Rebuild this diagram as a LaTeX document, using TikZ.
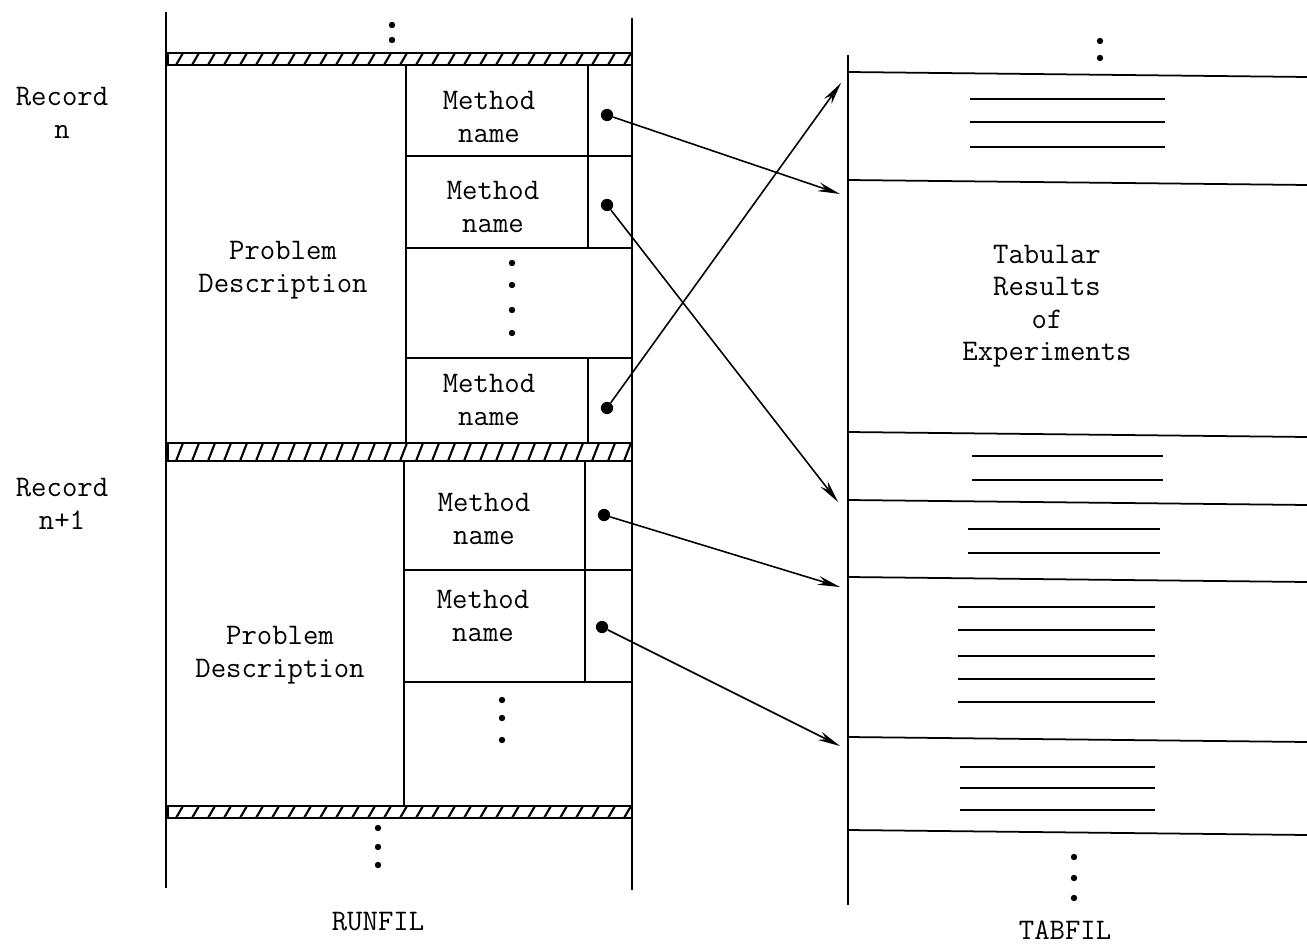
\documentclass[tikz,border=0pt]{standalone}
\usepackage{fontspec}
\usetikzlibrary{arrows.meta,positioning}
\tikzset{
  frame/.style={line width=1.4pt},
  grid/.style={line width=1.1pt},
  lbl/.style={font=\ttfamily\fontsize{17}{18.5}\selectfont,align=center,inner sep=0pt},
  ptr/.style={circle,fill=black,inner sep=0pt,minimum size=7pt},
  link/.style={-{Stealth[length=4.5mm,width=1.8mm]},line width=0.9pt},
  rule/.style={line width=1pt}
}
\newcommand{\dotcol}[2]{\foreach \yy in {#2} \fill (#1,\yy) circle (3.2);}

\begin{document}
\begin{tikzpicture}[x=0.02cm,y=-0.02cm]
  \useasboundingbox (0,0) rectangle (1307,945);

  % RUNFIL frame
  \draw[frame] (166,12) -- (166,888);
  \draw[frame] (632,18) -- (632,890);
  \foreach \ya/\yb in {53/65,443/461,806/818}{
    \draw[grid] (168,\ya) rectangle (632,\yb);
    \begin{scope}
      \clip (168,\ya) rectangle (632,\yb);
      \foreach \xx in {160,176,...,640}
        \draw[line width=1.2pt] (\xx,\yb) -- (\xx+7,\ya);
    \end{scope}
  }
  \dotcol{392}{25,40}
  \dotcol{378}{828,847,865}

  % record n
  \draw[grid] (406,65) -- (406,443);
  \draw[grid] (588,65) -- (588,248);
  \draw[grid] (588,358) -- (588,443);
  \foreach \yy in {156,248,358}
    \draw[grid] (406,\yy) -- (632,\yy);
  \dotcol{512}{263,285,310,333}

  % record n+1
  \draw[grid] (404,461) -- (404,806);
  \draw[grid] (585,461) -- (585,682);
  \foreach \yy in {570,682}
    \draw[grid] (404,\yy) -- (632,\yy);
  \dotcol{502}{700,718,740}

  \node[lbl] (recn) at (62,113) {Record\\n};
  \node[lbl] (recm) at (62,504) {Record\\n+1};
  \node[lbl] (desc1) at (283,270) {Problem\\Description};
  \node[lbl] (desc2) at (280,655) {Problem\\Description};
  \node[lbl] (meth1) at (489,117) {Method\\name};
  \node[lbl] (meth2) at (493,207) {Method\\name};
  \node[lbl] (meth3) at (489,400) {Method\\name};
  \node[lbl] (meth4) at (484,519) {Method\\name};
  \node[lbl] (meth5) at (483,616) {Method\\name};
  \node[lbl] (runfil) at (378,922) {RUNFIL};

  \node[ptr] (p1) at (607,115) {};
  \node[ptr] (p2) at (607,205) {};
  \node[ptr] (p3) at (607,408) {};
  \node[ptr] (p4) at (604,515) {};
  \node[ptr] (p5) at (602,627) {};

  % TABFIL
  \draw[frame] (848,55) -- (848,905);
  \foreach \yy in {72,180,432,500,577,737,830}
    \draw[rule] (848,\yy) -- (1307,\yy+5);
  \foreach \yy in {99,122,147}
    \draw[rule] (970,\yy) -- (1165,\yy);
  \foreach \yy in {456,480}
    \draw[rule] (972,\yy) -- (1163,\yy);
  \foreach \yy in {529,553}
    \draw[rule] (968,\yy) -- (1160,\yy);
  \foreach \yy in {607,630,656,679,702}
    \draw[rule] (958,\yy) -- (1155,\yy);
  \foreach \yy in {767,788,810}
    \draw[rule] (960,\yy) -- (1155,\yy);
  \dotcol{1100}{41,58}
  \dotcol{1074}{857,878,898}
  \node[lbl] (tab) at (1047,306) {Tabular\\Results\\of\\Experiments};
  \node[lbl] (tabfil) at (1065,930) {TABFIL};

  \coordinate (t1) at (840,194);
  \coordinate (t2) at (838,502);
  \coordinate (t3) at (841,83);
  \coordinate (t4) at (840,587);
  \coordinate (t5) at (840,746);

  \draw[link] (p1) -- (t1);
  \draw[link] (p2) -- (t2);
  \draw[link] (p3) -- (t3);
  \draw[link] (p4) -- (t4);
  \draw[link] (p5) -- (t5);
\end{tikzpicture}
\end{document}
